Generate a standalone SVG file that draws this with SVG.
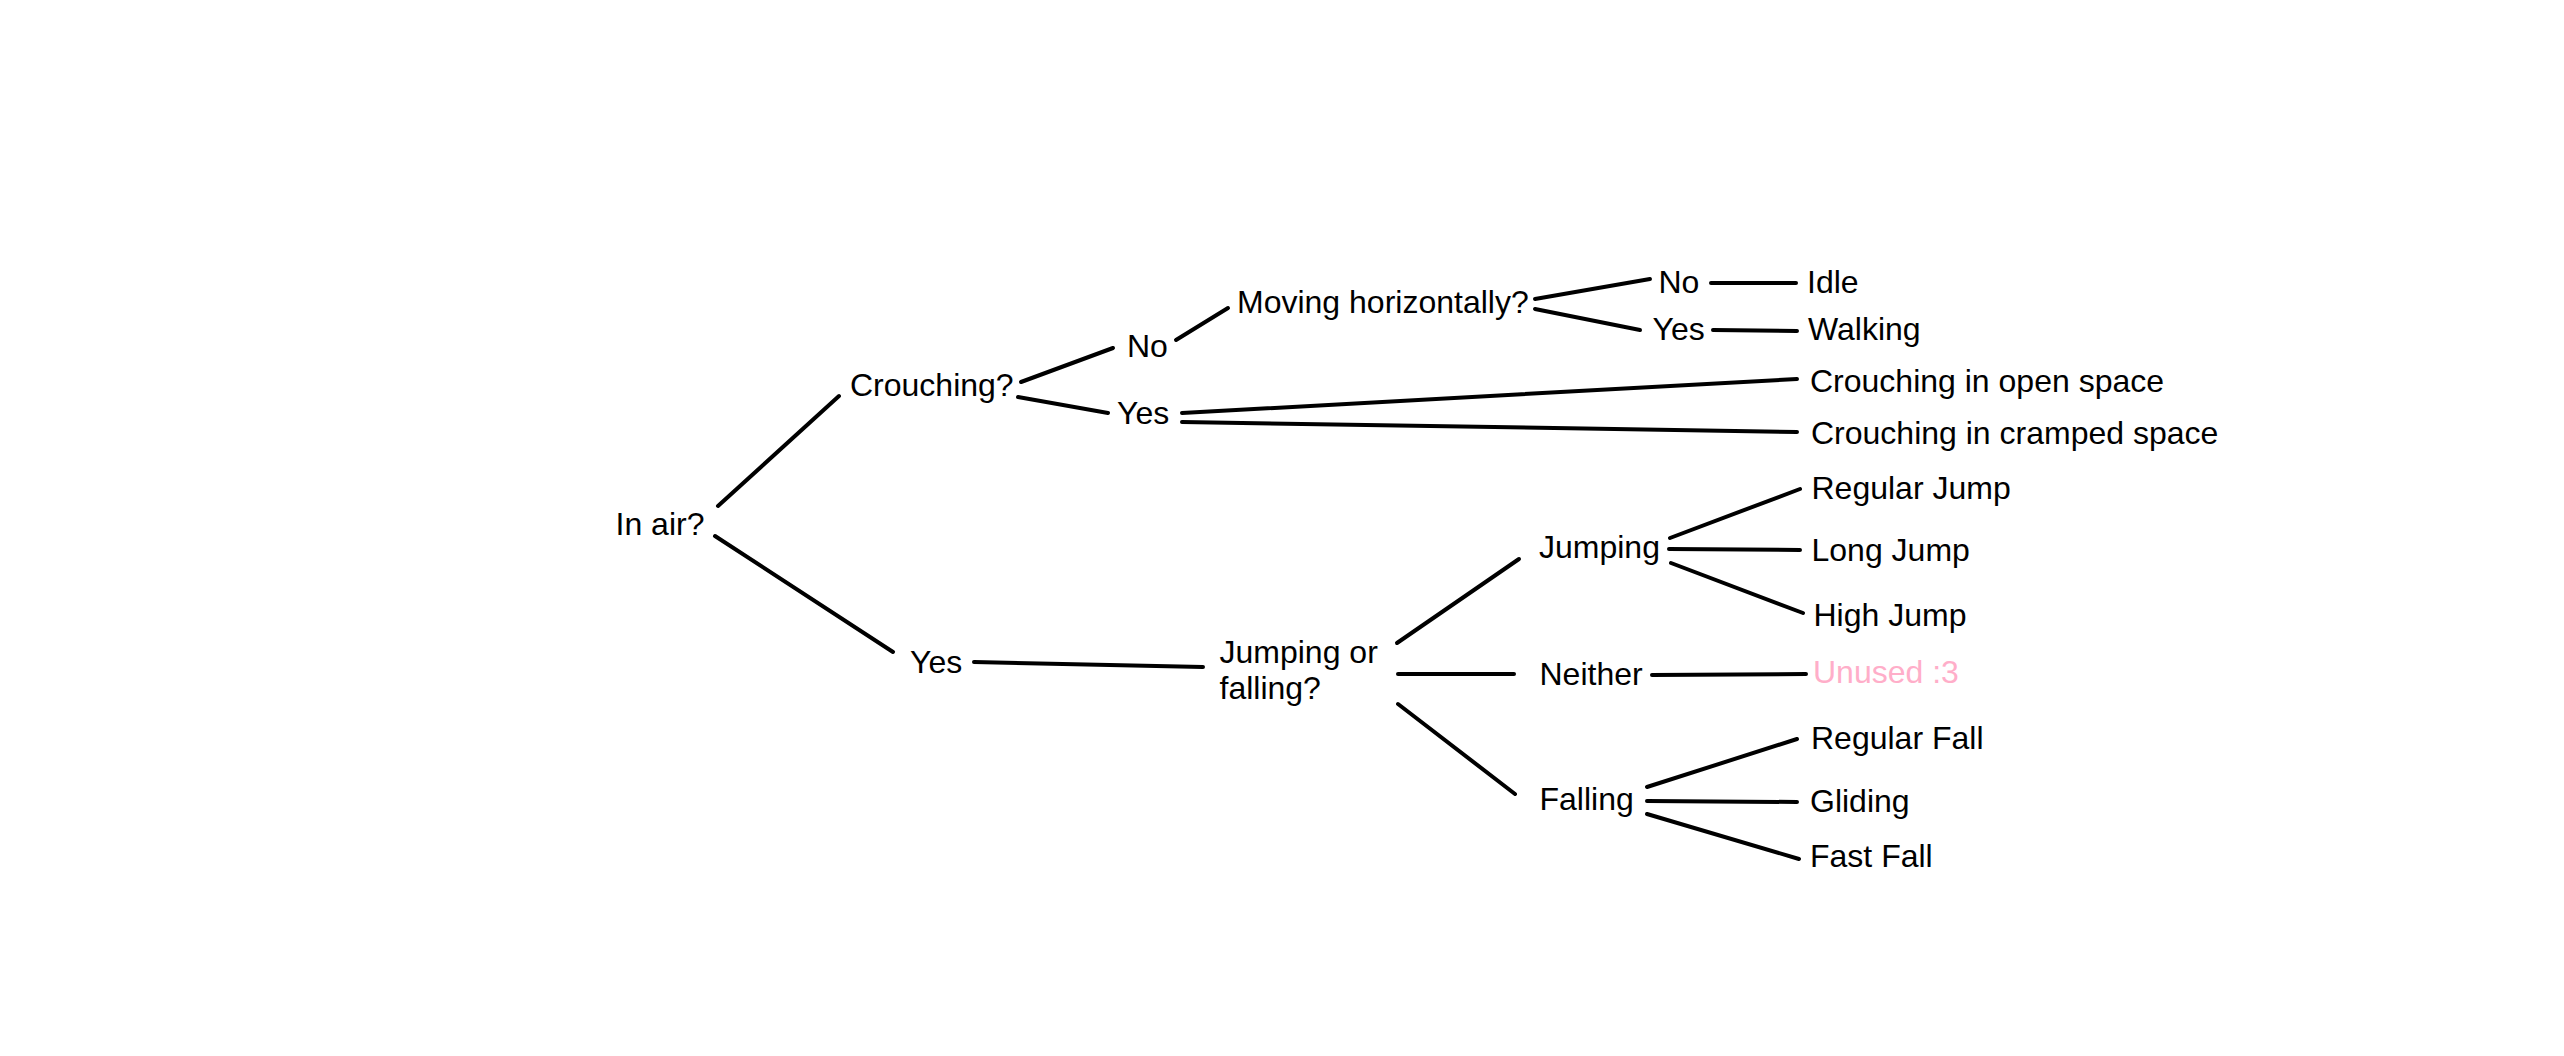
<svg xmlns="http://www.w3.org/2000/svg" width="2564" height="1056" viewBox="0 0 2564 1056">
<style>
text { font-family: "Liberation Sans", Arial, sans-serif; font-size: 32px; fill: #000; }
.unused { fill: #FFAEC9; }
.conn line { stroke: #000; stroke-width: 4; stroke-linecap: round; }
</style>
<rect width="2564" height="1056" fill="#fff"/>
<g id="connectors" class="conn">
<line x1="718" y1="506" x2="839" y2="396"/>
<line x1="715" y1="536" x2="893" y2="652"/>
<line x1="1021" y1="382" x2="1113" y2="348"/>
<line x1="1018" y1="397" x2="1108" y2="413"/>
<line x1="1176" y1="340" x2="1228" y2="308"/>
<line x1="1182" y1="413" x2="1797" y2="379"/>
<line x1="1182" y1="422" x2="1797" y2="432"/>
<line x1="1535" y1="299" x2="1650" y2="279"/>
<line x1="1535" y1="309" x2="1640" y2="330"/>
<line x1="1711" y1="283" x2="1796" y2="283"/>
<line x1="1713" y1="330" x2="1797" y2="331"/>
<line x1="974" y1="662" x2="1203" y2="667"/>
<line x1="1397" y1="643" x2="1519" y2="559"/>
<line x1="1398" y1="674" x2="1514" y2="674"/>
<line x1="1398" y1="704" x2="1515" y2="794"/>
<line x1="1670" y1="538" x2="1800" y2="489"/>
<line x1="1669" y1="549" x2="1800" y2="550"/>
<line x1="1671" y1="563" x2="1803" y2="613"/>
<line x1="1652" y1="675" x2="1806" y2="674"/>
<line x1="1647" y1="787" x2="1797" y2="739"/>
<line x1="1647" y1="801" x2="1797" y2="802"/>
<line x1="1647" y1="814" x2="1799" y2="859"/>
</g>
<g id="in-air"><text x="615.5" y="535">In air?</text></g>
<g id="crouching"><text x="850" y="396">Crouching?</text></g>
<g id="crouch-no"><text x="1127" y="357">No</text></g>
<g id="crouch-yes"><text x="1117" y="424">Yes</text></g>
<g id="moving"><text x="1237" y="313">Moving horizontally?</text></g>
<g id="moving-no"><text x="1658.5" y="293">No</text></g>
<g id="moving-yes"><text x="1652.5" y="339.5">Yes</text></g>
<g id="idle"><text x="1807" y="293">Idle</text></g>
<g id="walking"><text x="1808" y="340">Walking</text></g>
<g id="crouch-open"><text x="1810" y="392">Crouching in open space</text></g>
<g id="crouch-cramped"><text x="1811" y="444">Crouching in cramped space</text></g>
<g id="air-yes"><text x="910" y="673">Yes</text></g>
<g id="jump-or-fall"><text x="1219.5" y="663">Jumping or</text><text x="1219.5" y="699">falling?</text></g>
<g id="jumping"><text x="1539" y="558">Jumping</text></g>
<g id="neither"><text x="1539.5" y="685">Neither</text></g>
<g id="falling"><text x="1539.5" y="810">Falling</text></g>
<g id="regular-jump"><text x="1811.5" y="498.5">Regular Jump</text></g>
<g id="long-jump"><text x="1811.5" y="560.5">Long Jump</text></g>
<g id="high-jump"><text x="1813.5" y="625.5">High Jump</text></g>
<g id="unused"><text class="unused" x="1813" y="683">Unused :3</text></g>
<g id="regular-fall"><text x="1811" y="748.5">Regular Fall</text></g>
<g id="gliding"><text x="1810" y="812">Gliding</text></g>
<g id="fast-fall"><text x="1810" y="867">Fast Fall</text></g>
</svg>
